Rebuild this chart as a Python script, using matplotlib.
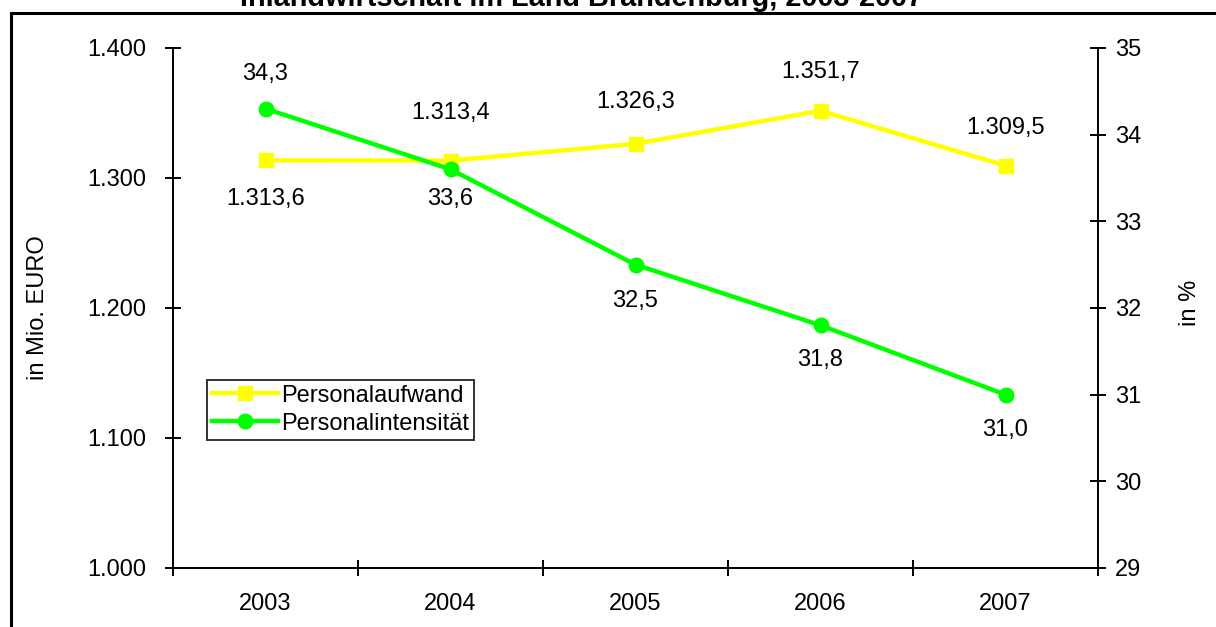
import matplotlib
matplotlib.use("Agg")
import matplotlib.pyplot as plt
from matplotlib.patches import Rectangle
from matplotlib.lines import Line2D

plt.rcParams['font.family'] = ['Liberation Sans', 'DejaVu Sans']

years = ['2003', '2004', '2005', '2006', '2007']
aufwand = [1313.6, 1313.4, 1326.3, 1351.7, 1309.5]
intensitaet = [34.3, 33.6, 32.5, 31.8, 31.0]
aufwand_labels = ['1.313,6', '1.313,4', '1.326,3', '1.351,7', '1.309,5']
intens_labels = ['34,3', '33,6', '32,5', '31,8', '31,0']
left_ticks = [1000, 1100, 1200, 1300, 1400]
left_ticklabels = ['1.000', '1.100', '1.200', '1.300', '1.400']
right_ticks = [29, 30, 31, 32, 33, 34, 35]

W, H = 1216, 627
FS = 17
fig = plt.figure(figsize=(W / 100, H / 100), dpi=100)

# frame around the chart
fig.patches.append(Rectangle((11 / W, -0.1), 1.2, 1.1 - 13 / H, transform=fig.transFigure,
                             fill=False, edgecolor='black', linewidth=2.2, zorder=0))

# title (partly cut off above the frame)
fig.text(582 / W, 1 - 6.5 / H, 'Inlandwirtschaft im Land Brandenburg, 2003-2007',
         ha='center', va='baseline', fontsize=20.8, fontweight='bold')

left, right, top, bottom = 173, 1098, 48, 568
ax = fig.add_axes([left / W, 1 - bottom / H, (right - left) / W, (bottom - top) / H])
ax2 = ax.twinx()

x = list(range(len(years)))
ax.set_xlim(-0.5, len(years) - 0.5)
ax.set_ylim(1000, 1400)
ax2.set_ylim(29, 35)

ax.plot(x, aufwand, color='#FFFF00', lw=3.2, marker='s', ms=10, mec='#FFFF00', mfc='#FFFF00', zorder=3)
ax2.plot(x, intensitaet, color='#00FF00', lw=3.2, marker='o', ms=10.5, mec='#00FF00', mfc='#00FF00', zorder=3)

aufwand_off = [39, -48, -42, -39, -38]
intens_off = [-35, 30, 36, 35, 35]
for i in x:
    ax.annotate(aufwand_labels[i], (x[i], aufwand[i]), xytext=(0, -aufwand_off[i] * 0.72),
                textcoords='offset points', ha='center', va='center', fontsize=FS)
    ax2.annotate(intens_labels[i], (x[i], intensitaet[i]), xytext=(0, -intens_off[i] * 0.72),
                 textcoords='offset points', ha='center', va='center', fontsize=FS)

for a in (ax, ax2):
    a.spines['top'].set_visible(False)
    for s in a.spines.values():
        s.set_linewidth(1.4)
ax.spines['right'].set_visible(False)
ax2.spines['left'].set_visible(False)
ax2.spines['bottom'].set_visible(False)

ax.set_yticks(left_ticks)
ax.set_yticklabels(left_ticklabels, fontsize=FS)
ax.tick_params(axis='y', direction='inout', length=11, width=1.4, pad=14)
ax2.set_yticks(right_ticks)
ax2.set_yticklabels([str(t) for t in right_ticks], fontsize=FS)
ax2.tick_params(axis='y', direction='inout', length=11, width=1.4, pad=7)

ax.set_xticks(x)
ax.set_xticklabels(years, fontsize=FS)
ax.tick_params(axis='x', which='major', length=0, pad=18)
ax.set_xticks([i - 0.5 for i in range(len(years) + 1)], minor=True)
ax.tick_params(axis='x', which='minor', direction='inout', length=11, width=1.4)

ax.set_ylabel('in Mio. EURO', fontsize=FS, va='center')
ax.yaxis.set_label_coords((38 - left) / (right - left), 0.5)
ax2.set_ylabel('in %', fontsize=FS, va='center', rotation=90)
ax2.yaxis.set_label_coords((1190 - left) / (right - left), 0.51)

handles = [Line2D([], [], color='#FFFF00', lw=3.2, marker='s', ms=10),
           Line2D([], [], color='#00FF00', lw=3.2, marker='o', ms=10.5)]
leg = fig.legend(handles, ['Personalaufwand', 'Personalintensität'], loc='upper left',
                 bbox_to_anchor=(207 / W, 1 - 380 / H), fontsize=FS, frameon=True, fancybox=False,
                 edgecolor='black', borderpad=0.2, labelspacing=0.25, handlelength=2.8,
                 handletextpad=0.15, borderaxespad=0, handleheight=0.8)
leg.get_frame().set_linewidth(1.4)

fig.savefig('out.png', dpi=100)
